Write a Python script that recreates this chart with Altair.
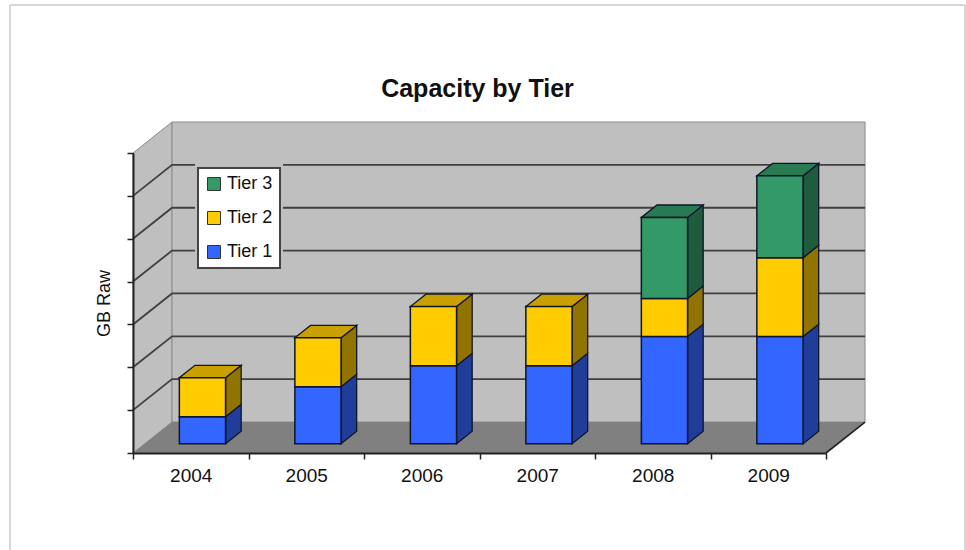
import altair as alt
import pandas as pd

# Stacked capacity per year, in axis units (the axis carries no printed numbers)
years = ["2004", "2005", "2006", "2007", "2008", "2009"]
tier1 = [0.63, 1.33, 1.82, 1.82, 2.50, 2.50]
tier2 = [0.91, 1.14, 1.38, 1.38, 0.89, 1.84]
tier3 = [0.00, 0.00, 0.00, 0.00, 1.89, 1.91]
tiers = ["Tier 1", "Tier 2", "Tier 3"]
series = [tier1, tier2, tier3]

front_colors = ["#3366ff", "#ffcc00", "#339966"]
side_colors = ["#1f3d99", "#917400", "#1f5c3d"]
top_colors = ["#2850c8", "#c9a000", "#287a52"]

WALL = "#bfbfbf"
FLOOR = "#808080"
EDGE = "#8c8c8c"
INK = "#222222"
FONT = "Liberation Sans"

Y_MAX = 7
N = len(years)
# Oblique projection: how far one full unit of depth moves a point, in scale units
DX = 0.338
DY = 0.723
# Bars occupy this slice of the chart's depth and this much of each category
D0, D1 = 0.30, 0.70
BAR_W = 0.40


def quad(rows, pid, fill, xs, lows, highs):
    for x, lo, hi in zip(xs, lows, highs):
        rows.append({"pid": pid, "fill": fill, "x": x, "lo": lo, "hi": hi})


# Back wall, side wall and floor
box = []
quad(box, "wall-left", WALL, [0, DX], [0, DY], [Y_MAX, Y_MAX + DY])
quad(box, "wall-back", WALL, [DX, N + DX], [DY, DY], [Y_MAX + DY, Y_MAX + DY])
floor = []
quad(floor, "floor", FLOOR, [0, DX, N, N + DX], [0, 0, 0, DY], [0, DY, DY, DY])

# Side and top faces, plus the front faces of each stack
faces, fronts = [], []
dx0, dx1 = D0 * DX, D1 * DX
dy0, dy1 = D0 * DY, D1 * DY
ddx, ddy = dx1 - dx0, dy1 - dy0
for i, year in enumerate(years):
    left = i + 0.5 - BAR_W / 2 + dx0
    right = left + BAR_W
    base = dy0
    top_tier = 0
    for t, vals in enumerate(series):
        v = vals[i]
        if v <= 0:
            continue
        top = base + v
        quad(faces, f"side-{i}-{t}", side_colors[t],
             [right, right + ddx], [base, base + ddy], [top, top + ddy])
        fronts.append({"year": year, "tier": tiers[t], "x": left, "x2": right,
                       "y": base, "y2": top})
        base = top
        top_tier = t
    quad(faces, f"top-{i}", top_colors[top_tier],
         [left, left + ddx, right, right + ddx],
         [base, base, base, base + ddy],
         [base, base + ddy, base + ddy, base + ddy])

# Gridlines run up the side wall, then along the back wall
grid = []
for v in range(1, Y_MAX):
    for x, y in [(0, v), (DX, v + DY), (N + DX, v + DY)]:
        grid.append({"v": v, "x": x, "y": y})

right_edge = pd.DataFrame([{"x": N, "y": 0}, {"x": N + DX, "y": DY}])

x_scale = alt.Scale(domain=[0, N], nice=False, zero=False)
y_scale = alt.Scale(domain=[0, Y_MAX], nice=False, zero=False)
x_q = alt.X("x:Q", scale=x_scale, axis=None)
y_q = alt.Y("lo:Q", scale=y_scale,
            axis=alt.Axis(values=list(range(Y_MAX + 1)), labels=False, grid=False,
                          title="GB Raw", titleFontSize=18, titleFontWeight="normal",
                          titleFont=FONT, titleColor="#111111",
                          titlePadding=13, tickSize=6, tickColor=INK, tickWidth=1.5,
                          domainColor=INK, domainWidth=2, zindex=1))


def polys(rows, stroke=None, width=0):
    return alt.Chart(pd.DataFrame(rows)).mark_area(
        orient="vertical", stroke=stroke, strokeWidth=width, opacity=1
    ).encode(
        x=x_q, y=y_q, y2="hi:Q",
        detail="pid:N",
        fill=alt.Fill("fill:N", scale=None),
    )


box_layer = polys(box, stroke=EDGE, width=1)
floor_layer = polys(floor)
grid_layer = alt.Chart(pd.DataFrame(grid)).mark_line(
    color="#404040", strokeWidth=1.8
).encode(
    x=alt.X("x:Q", scale=x_scale, axis=None),
    y=alt.Y("y:Q", scale=y_scale),
    detail="v:N",
    order=alt.Order("x:Q"),
)
edge_layer = alt.Chart(right_edge).mark_line(color=INK, strokeWidth=1.6).encode(
    x=alt.X("x:Q", scale=x_scale, axis=None), y=alt.Y("y:Q", scale=y_scale)
)
# Wall-coloured margin that keeps the gridlines clear of the legend box
legend_gap = alt.Chart(pd.DataFrame({"a": [0]})).mark_rect(color=WALL).encode(
    x=alt.value(62), x2=alt.value(150), y=alt.value(11), y2=alt.value(120)
)
face_layer = polys(faces, stroke="#10162a", width=1.3)
front_layer = alt.Chart(pd.DataFrame(fronts)).mark_bar(
    stroke="#10162a", strokeWidth=1.5
).encode(
    x=alt.X("x:Q", scale=x_scale, axis=None),
    x2="x2:Q",
    y=alt.Y("y:Q", scale=y_scale),
    y2="y2:Q",
    color=alt.Color(
        "tier:N",
        scale=alt.Scale(domain=tiers[::-1], range=front_colors[::-1]),
        legend=alt.Legend(
            title=None, orient="none", legendX=65, legendY=15,
            fillColor="white", strokeColor="#444444", padding=7,
            symbolType="square", symbolSize=169, symbolStrokeColor="#333333",
            symbolStrokeWidth=1, labelFontSize=18, labelFont=FONT,
            labelColor="#111111", rowPadding=16, labelOffset=4,
        ),
    ),
)
# Year labels sit between ticks on a band axis of their own
year_axis = alt.Chart(pd.DataFrame({"year": years})).mark_rule(opacity=0).encode(
    x=alt.X(
        "year:N",
        scale=alt.Scale(type="band", paddingInner=0, paddingOuter=0),
        axis=alt.Axis(
            title=None, labelAngle=0, tickBand="extent", tickSize=6, tickColor=INK,
            tickWidth=1.5, domainColor=INK, domainWidth=2, labelFontSize=19,
            labelFont=FONT, labelColor="#111111", labelPadding=7,
            grid=False, zindex=1,
        ),
    )
)
# Thin page frame
frame = alt.layer(
    alt.Chart(pd.DataFrame({"a": [0]})).mark_rule(color="#c8c8c8", strokeWidth=1.5).encode(
        x=alt.value(-123), x2=alt.value(832), y=alt.value(-148)
    ),
    alt.Chart(pd.DataFrame({"a": [0]})).mark_rule(color="#c8c8c8", strokeWidth=1.5).encode(
        x=alt.value(-123), y=alt.value(-148), y2=alt.value(397)
    ),
    alt.Chart(pd.DataFrame({"a": [0]})).mark_rule(color="#c8c8c8", strokeWidth=1.5).encode(
        x=alt.value(832), y=alt.value(-148), y2=alt.value(397)
    ),
)

chart = (
    alt.layer(
        frame, box_layer, floor_layer, grid_layer, edge_layer, legend_gap,
        face_layer, front_layer, year_axis,
    )
    .resolve_scale(x="independent")
    .properties(
        width=693,
        height=300,
        padding={"left": 133, "top": 153, "right": 140, "bottom": 97},
        autosize=alt.AutoSizeParams(type="none"),
        background="white",
        title=alt.TitleParams(
            "Capacity by Tier", font=FONT, fontSize=25, fontWeight="bold",
            color="#111111", anchor="middle", offset=-98, dx=-2,
        ),
    )
    .configure_view(stroke=None)
    .configure_legend(strokeWidth=2)
)

chart.save("out.html", embed_options={"renderer": "svg", "actions": False})
